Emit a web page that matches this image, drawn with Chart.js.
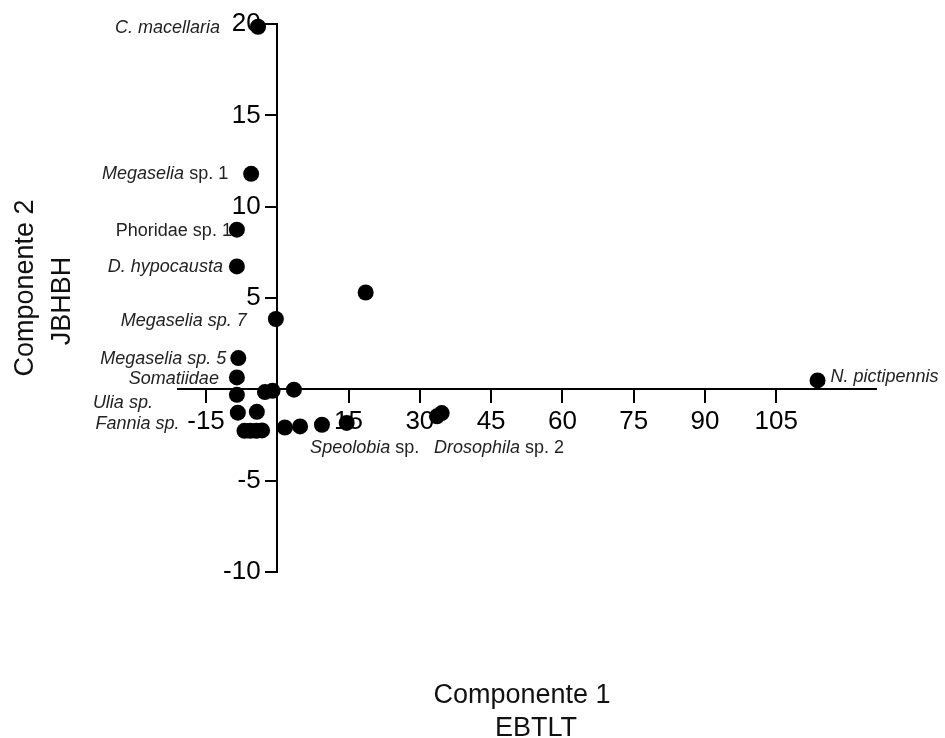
<!DOCTYPE html>
<html><head><meta charset="utf-8">
<script src="https://cdn.jsdelivr.net/npm/chart.js@4"></script>
<style>html,body{margin:0;padding:0;background:#fff;}#wrap{width:945px;height:738px;}</style>
</head><body><div id="wrap"><canvas id="c" width="945" height="738"></canvas></div>
<script>
// ---- data ----
const componente1 = [-4.05, -5.5, -8.5, -8.5, -0.3, 18.6, -8.2, -8.5, -8.5, -2.6, -1.0, 3.5, -8.3, -4.3, -6.9, -5.7, -4.4, -3.2, 1.6, 4.8, 9.4, 14.6, 33.6, 34.6, 113.7];
const componente2 = [19.85, 11.8, 8.74, 6.73, 3.85, 5.30, 1.71, 0.65, -0.30, -0.15, -0.08, -0.02, -1.28, -1.23, -2.27, -2.27, -2.27, -2.25, -2.09, -2.03, -1.94, -1.84, -1.48, -1.30, 0.49];
const speciesNames = ['C. macellaria', 'Megaselia sp. 1', 'Phoridae sp. 1', 'D. hypocausta', 'Megaselia sp. 7', '', 'Megaselia sp. 5', 'Somatiidae', 'Ulia sp.', '', '', '', '', '', 'Fannia sp.', '', '', '', '', '', '', 'Speolobia sp.', 'Drosophila sp. 2', '', 'N. pictipennis'];
const xTicks = [-15, 15, 30, 45, 60, 75, 90, 105];
const yTicks = [-10, -5, 5, 10, 15, 20];
const xTitle = ['Componente 1', 'EBTLT'];
const yTitle = ['Componente 2', 'JBHBH'];

// ---- label styling (italic part, placement) ----
const labelStyle = {
  0:  {italic: 'C. macellaria', align: 'right', dx: -38, dy: 1.5},
  1:  {italic: 'Megaselia', align: 'right', dx: -23, dy: 0},
  2:  {italic: '', align: 'right', dx: -5, dy: 1},
  3:  {italic: 'D. hypocausta', align: 'right', dx: -14, dy: 1},
  4:  {italic: 'Megaselia sp. 7', align: 'right', dx: -29, dy: 2},
  6:  {italic: 'Megaselia sp. 5', align: 'right', dx: -12, dy: 1},
  7:  {italic: 'Somatiidae', align: 'right', dx: -18, dy: 1.5},
  8:  {italic: 'Ulia sp.', align: 'right', dx: -84, dy: 8},
  14: {italic: 'Fannia sp.', align: 'right', dx: -65, dy: -7},
  21: {italic: 'Speolobia', align: 'center', dx: 18, dy: 25},
  22: {italic: 'Drosophila', align: 'left', dx: -3, dy: 32},
  24: {italic: 'N. pictipennis', align: 'left', dx: 13, dy: -3}
};
const FAM = '"Liberation Sans", Arial, Helvetica, sans-serif';

const labelPlugin = {
  id: 'speciesLabels',
  afterDraw(chart) {
    const ctx = chart.ctx;
    const xs = chart.scales.x, ys = chart.scales.y;
    ctx.save();
    ctx.fillStyle = '#222';
    ctx.textBaseline = 'middle';
    speciesNames.forEach((name, i) => {
      if (!name) return;
      const st = labelStyle[i];
      const px = xs.getPixelForValue(componente1[i]) + st.dx;
      const py = ys.getPixelForValue(componente2[i]) + st.dy;
      const segs = [];
      if (st.italic && name.startsWith(st.italic)) {
        segs.push([st.italic, true]);
        if (name.length > st.italic.length) segs.push([name.slice(st.italic.length), false]);
      } else segs.push([name, false]);
      const fontOf = it => (it ? 'italic ' : '') + '18px ' + FAM;
      let total = 0;
      segs.forEach(s => { ctx.font = fontOf(s[1]); total += ctx.measureText(s[0]).width; });
      let x = st.align === 'right' ? px - total : st.align === 'center' ? px - total / 2 : px;
      ctx.textAlign = 'left';
      segs.forEach(s => { ctx.font = fontOf(s[1]); ctx.fillText(s[0], x, py); x += ctx.measureText(s[0]).width; });
    });
    // axis titles
    ctx.fillStyle = '#111';
    ctx.font = '27px ' + FAM;
    ctx.textBaseline = 'alphabetic';
    ctx.textAlign = 'center';
    ctx.fillText(xTitle[0], 522, 703);
    ctx.fillText(xTitle[1], 536, 736);
    ctx.save();
    ctx.translate(33, 288); ctx.rotate(-Math.PI / 2); ctx.fillText(yTitle[0], 0, 0);
    ctx.restore();
    ctx.save();
    ctx.translate(70, 301); ctx.rotate(-Math.PI / 2); ctx.fillText(yTitle[1], 0, 0);
    ctx.restore();
    ctx.restore();
  }
};

const tickFont = {family: FAM, size: 26};
new Chart(document.getElementById('c'), {
  type: 'scatter',
  data: {datasets: [{
    data: componente1.map((x, i) => ({x, y: componente2[i]})),
    pointRadius: 8, pointHoverRadius: 8, backgroundColor: '#000', borderWidth: 0, clip: false
  }]},
  options: {
    responsive: false, animation: false, events: [],
    layout: {padding: {left: 177.5, right: 69, top: 24, bottom: 166}},
    plugins: {legend: {display: false}, tooltip: {enabled: false}},
    scales: {
      x: {type: 'linear', min: -21, max: 126, position: {y: 0},
        afterBuildTicks: s => { s.ticks = xTicks.map(v => ({value: v})); },
        ticks: {autoSkip: false, maxRotation: 0, padding: 4, color: '#000', font: tickFont},
        grid: {drawOnChartArea: false, drawTicks: true, tickLength: 13, color: '#000', lineWidth: 2},
        border: {display: true, color: '#000', width: 2}},
      y: {type: 'linear', min: -10, max: 20, position: {x: 0},
        afterBuildTicks: s => { s.ticks = yTicks.map(v => ({value: v})); },
        ticks: {autoSkip: false, padding: 3, color: '#000', font: tickFont,
          callback: v => v + '  \u200A'},
        grid: {drawOnChartArea: false, drawTicks: true, tickLength: 11, color: '#000', lineWidth: 2},
        border: {display: true, color: '#000', width: 2}}
    }
  },
  plugins: [labelPlugin]
});
</script>
</body></html>
